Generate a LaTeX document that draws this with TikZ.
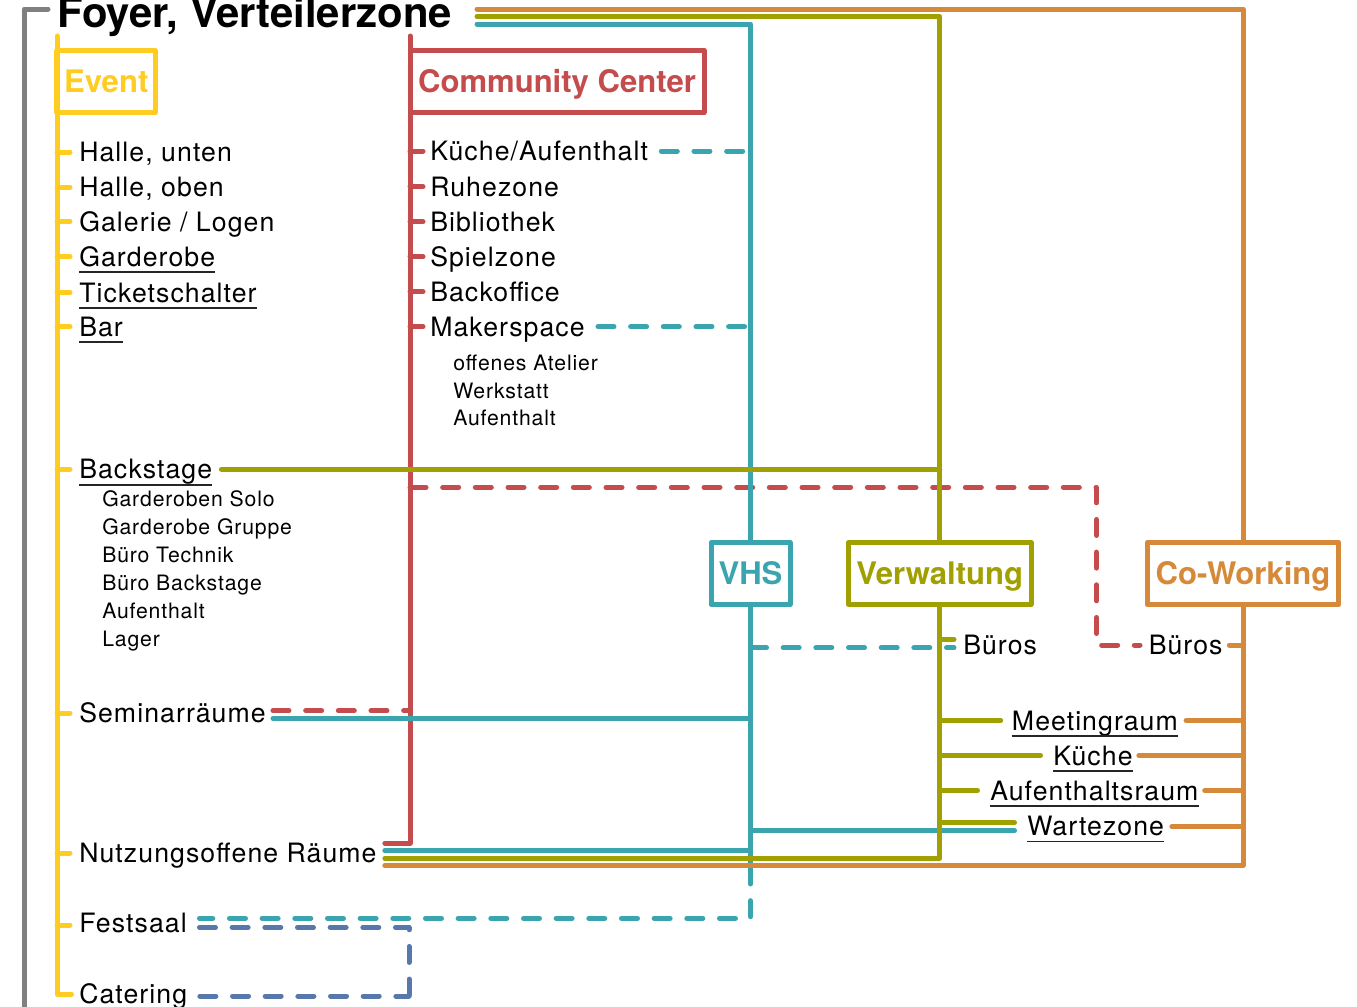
\documentclass[tikz,border=0pt]{standalone}
\usepackage{fontspec}
\setmainfont{TeX Gyre Heros}[LetterSpace=4]
\newfontfamily\boxfont{TeX Gyre Heros}
\usetikzlibrary{calc}

\definecolor{evcol}{RGB}{255,204,34}
\definecolor{cccol}{RGB}{196,76,76}
\definecolor{vhscol}{RGB}{58,165,174}
\definecolor{verwcol}{RGB}{160,160,0}
\definecolor{cwcol}{RGB}{213,137,57}
\definecolor{bluecol}{RGB}{86,120,172}
\definecolor{greycol}{RGB}{128,128,128}

\tikzset{
  bus/.style={line width=3.75pt, line cap=round, line join=round},
  dashbus/.style={bus, dash pattern=on 12pt off 12.5pt},
  entry/.style={anchor=west, inner sep=0pt, font=\fontsize{20}{23}\selectfont, text height=14.36pt, text depth=0pt},
  subentry/.style={anchor=west, inner sep=0pt, font=\fontsize{15.9}{18}\selectfont, text height=11.4pt, text depth=0pt},
  unitbox/.style={draw, fill=white, line width=3.75pt, line join=round, inner sep=0pt, font=\boxfont\bfseries\fontsize{23.3}{26}\selectfont, text height=16.7pt, text depth=0pt, minimum height=46.5pt},
  ul/.style={append after command={($(\tikzlastnode.south west)+(0,5.7)$) edge[draw=black!85, line width=1.3pt] ($(\tikzlastnode.south east)+(0,5.7)$)}},
}

\begin{document}
\begin{tikzpicture}[x=0.75pt,y=0.75pt,yscale=-1,xscale=1]
\useasboundingbox (0,0) rectangle (1357,1007);

% Title
\node[anchor=base west, inner sep=0pt, font=\boxfont\bfseries\fontsize{31.4}{36}\selectfont] (title) at (57,27) {Foyer, Verteilerzone};

% Boxes
\node[unitbox, draw=evcol, text=evcol, minimum width=73.9pt] (event) at (106.25,81.5) {Event};
\node[unitbox, draw=cccol, text=cccol, minimum width=220.5pt] (cc) at (557,81.5) {Community Center};
\node[unitbox, draw=vhscol, text=vhscol, minimum width=59.25pt] (vhs) at (750.5,573.5) {VHS};
\node[unitbox, draw=verwcol, text=verwcol, minimum width=136.9pt] (verw) at (939.75,573.5) {Verwaltung};
\node[unitbox, draw=cwcol, text=cwcol, minimum width=143.6pt] (cowork) at (1243,573.5) {Co-Working};

% Event entries
\node[entry] (hallU) at (79,152) {Halle, unten};
\node[entry] (hallO) at (79,187.3) {Halle, oben};
\node[entry] (galerie) at (79,221.5) {Galerie / Logen};
\node[entry, ul] (garderobe) at (79,256.7) {Garderobe};
\node[entry, ul] (ticket) at (79,292.5) {Ticketschalter};
\node[entry, ul] (bar) at (79,326.7) {Bar};
\node[entry, ul] (backstage) at (79,469.3) {Backstage};
\node[subentry] (garSolo) at (102,499.3) {Garderoben Solo};
\node[subentry] (garGruppe) at (102,527.3) {Garderobe Gruppe};
\node[subentry] (bueroTech) at (102,555) {Büro Technik};
\node[subentry] (bueroBack) at (102,583.3) {Büro Backstage};
\node[subentry] (aufBack) at (102,611.3) {Aufenthalt};
\node[subentry] (lager) at (102,639) {Lager};
\node[entry] (seminar) at (79,713) {Seminarräume};
\node[entry] (nutzung) at (79,853) {Nutzungsoffene Räume};
\node[entry] (festsaal) at (79,923) {Festsaal};
\node[entry] (catering) at (79,994) {Catering};

% Community Center entries
\node[entry] (kuecheA) at (430,151) {Küche/Aufenthalt};
\node[entry] (ruhe) at (430,186.7) {Ruhezone};
\node[entry] (biblio) at (430,221.7) {Bibliothek};
\node[entry] (spiel) at (430,256.7) {Spielzone};
\node[entry] (backoff) at (430,291.7) {Backoffice};
\node[entry] (maker) at (430,326.7) {Makerspace};
\node[subentry] (atelier) at (453,363.3) {offenes Atelier};
\node[subentry] (werkstatt) at (453,390.5) {Werkstatt};
\node[subentry] (aufMaker) at (453,418) {Aufenthalt};

% Verwaltung / Co-Working entries
\node[entry] (bueroV) at (963,645) {Büros};
\node[entry] (bueroC) at (1148.5,645) {Büros};
\node[entry, ul] (meeting) at (1011.7,720.5) {Meetingraum};
\node[entry, ul] (kuecheB) at (1053,755.5) {Küche};
\node[entry, ul] (aufRaum) at (990,790.5) {Aufenthaltsraum};
\node[entry, ul] (warte) at (1027,826) {Wartezone};

% Bus coordinates
\coordinate (greyTop) at (48,9);
\coordinate (greyEnd) at (24,1012);
\coordinate (evTop) at (57,36);
\coordinate (ccTop) at (410,36);
\coordinate (cwStart) at (477,9);
\coordinate (verwStart) at (477,16.5);
\coordinate (vhsStart) at (477,24);
\coordinate (vhsEnd) at (750.5,868);
\coordinate (ccBend) at (1096.5,487.3);
\coordinate (blueEnd) at (409,1012);

% Grey frame
\draw[bus, greycol] (greyTop) -| (greyEnd);

% Event bus
\draw[bus, evcol] (evTop) |- ($(catering.west)+(-7.5,0)$);
\draw[bus, evcol] (evTop |- hallU.west) -- ($(hallU.west)+(-9,0)$);
\draw[bus, evcol] (evTop |- hallO.west) -- ($(hallO.west)+(-9,0)$);
\draw[bus, evcol] (evTop |- galerie.west) -- ($(galerie.west)+(-9,0)$);
\draw[bus, evcol] (evTop |- garderobe.west) -- ($(garderobe.west)+(-9,0)$);
\draw[bus, evcol] (evTop |- ticket.west) -- ($(ticket.west)+(-9,0)$);
\draw[bus, evcol] (evTop |- bar.west) -- ($(bar.west)+(-9,0)$);
\draw[bus, evcol] (evTop |- backstage.west) -- ($(backstage.west)+(-9,0)$);
\draw[bus, evcol] (evTop |- seminar.west) -- ($(seminar.west)+(-9,0)$);
\draw[bus, evcol] (evTop |- nutzung.west) -- ($(nutzung.west)+(-9,0)$);
\draw[bus, evcol] ($(evTop |- festsaal.west)+(0,2)$) -- ($(festsaal.west)+(-9,2)$);

% Community Center bus
\draw[bus, cccol] (ccTop) |- ($(nutzung.east)+(8,-10)$);
\draw[bus, cccol] (ccTop |- kuecheA.west) -- ($(kuecheA.west)+(-7,0)$);
\draw[bus, cccol] (ccTop |- ruhe.west) -- ($(ruhe.west)+(-7,0)$);
\draw[bus, cccol] (ccTop |- biblio.west) -- ($(biblio.west)+(-7,0)$);
\draw[bus, cccol] (ccTop |- spiel.west) -- ($(spiel.west)+(-7,0)$);
\draw[bus, cccol] (ccTop |- backoff.west) -- ($(backoff.west)+(-7,0)$);
\draw[bus, cccol] (ccTop |- maker.west) -- ($(maker.west)+(-7,0)$);
\draw[dashbus, cccol] (ccTop |- ccBend) -- (ccBend) |- ($(bueroC.west)+(-8.5,0)$);
\draw[dashbus, cccol] ($(seminar.east)+(7,-2.3)$) -- ($(seminar.east -| ccTop)+(0,-2.3)$);

% VHS bus
\draw[bus, vhscol] (vhsStart) -| (vhs.north);
\draw[bus, vhscol] (vhs.south) -- (vhsEnd);
\draw[dashbus, vhscol] (vhsEnd) |- ($(festsaal.east)+(12.5,-4.7)$);
\draw[dashbus, vhscol] ($(kuecheA.east)+(13,0)$) -- (kuecheA.east -| vhs.north);
\draw[dashbus, vhscol] ($(maker.east)+(13,0)$) -- (maker.east -| vhs.north);
\draw[bus, vhscol] ($(seminar.east)+(7,5.3)$) -- ($(seminar.east -| vhs.north)+(0,5.3)$);
\draw[bus, vhscol] ($(nutzung.east)+(8,-2.3)$) -- ($(nutzung.east -| vhs.north)+(0,-2.3)$);
\draw[dashbus, vhscol] ($(vhs.south |- bueroV.west)+(0,2.7)$) -- ($(bueroV.west)+(-9,2.7)$);
\draw[bus, vhscol] ($(vhs.south |- warte.west)+(0,4.7)$) -- ($(warte.west)+(-12.5,4.7)$);

% Verwaltung bus
\draw[bus, verwcol] (verwStart) -| (verw.north);
\draw[bus, verwcol] (verw.south) |- ($(nutzung.east)+(8,5.3)$);
\draw[bus, verwcol] ($(backstage.east)+(9,0)$) -- (backstage.east -| verw.north);
\draw[bus, verwcol] ($(verw.south |- bueroV.west)+(0,-5.7)$) -- ($(bueroV.west)+(-9,-5.7)$);
\draw[bus, verwcol] (verw.south |- meeting.west) -- ($(meeting.west)+(-11,0)$);
\draw[bus, verwcol] (verw.south |- kuecheB.west) -- ($(kuecheB.west)+(-12.5,0)$);
\draw[bus, verwcol] (verw.south |- aufRaum.west) -- ($(aufRaum.west)+(-12.5,0)$);
\draw[bus, verwcol] ($(verw.south |- warte.west)+(0,-3.3)$) -- ($(warte.west)+(-12.5,-3.3)$);

% Co-Working bus
\draw[bus, cwcol] (cwStart) -| (cowork.north);
\draw[bus, cwcol] (cowork.south) |- ($(nutzung.east)+(8,12.7)$);
\draw[bus, cwcol] ($(bueroC.east)+(6.5,0)$) -- (bueroC.east -| cowork.south);
\draw[bus, cwcol] ($(meeting.east)+(8,0)$) -- (meeting.east -| cowork.south);
\draw[bus, cwcol] ($(kuecheB.east)+(6,0)$) -- (kuecheB.east -| cowork.south);
\draw[bus, cwcol] ($(aufRaum.east)+(6,0)$) -- (aufRaum.east -| cowork.south);
\draw[bus, cwcol] ($(warte.east)+(7.5,0.7)$) -- ($(warte.east -| cowork.south)+(0,0.7)$);

% Festsaal - Catering
\draw[dashbus, bluecol] ($(festsaal.east)+(12.5,4.3)$) -| (blueEnd);
\draw[dashbus, bluecol] ($(catering.east)+(12.5,2)$) -- ($(catering.east -| blueEnd)+(0,2)$);

\end{tikzpicture}
\end{document}
